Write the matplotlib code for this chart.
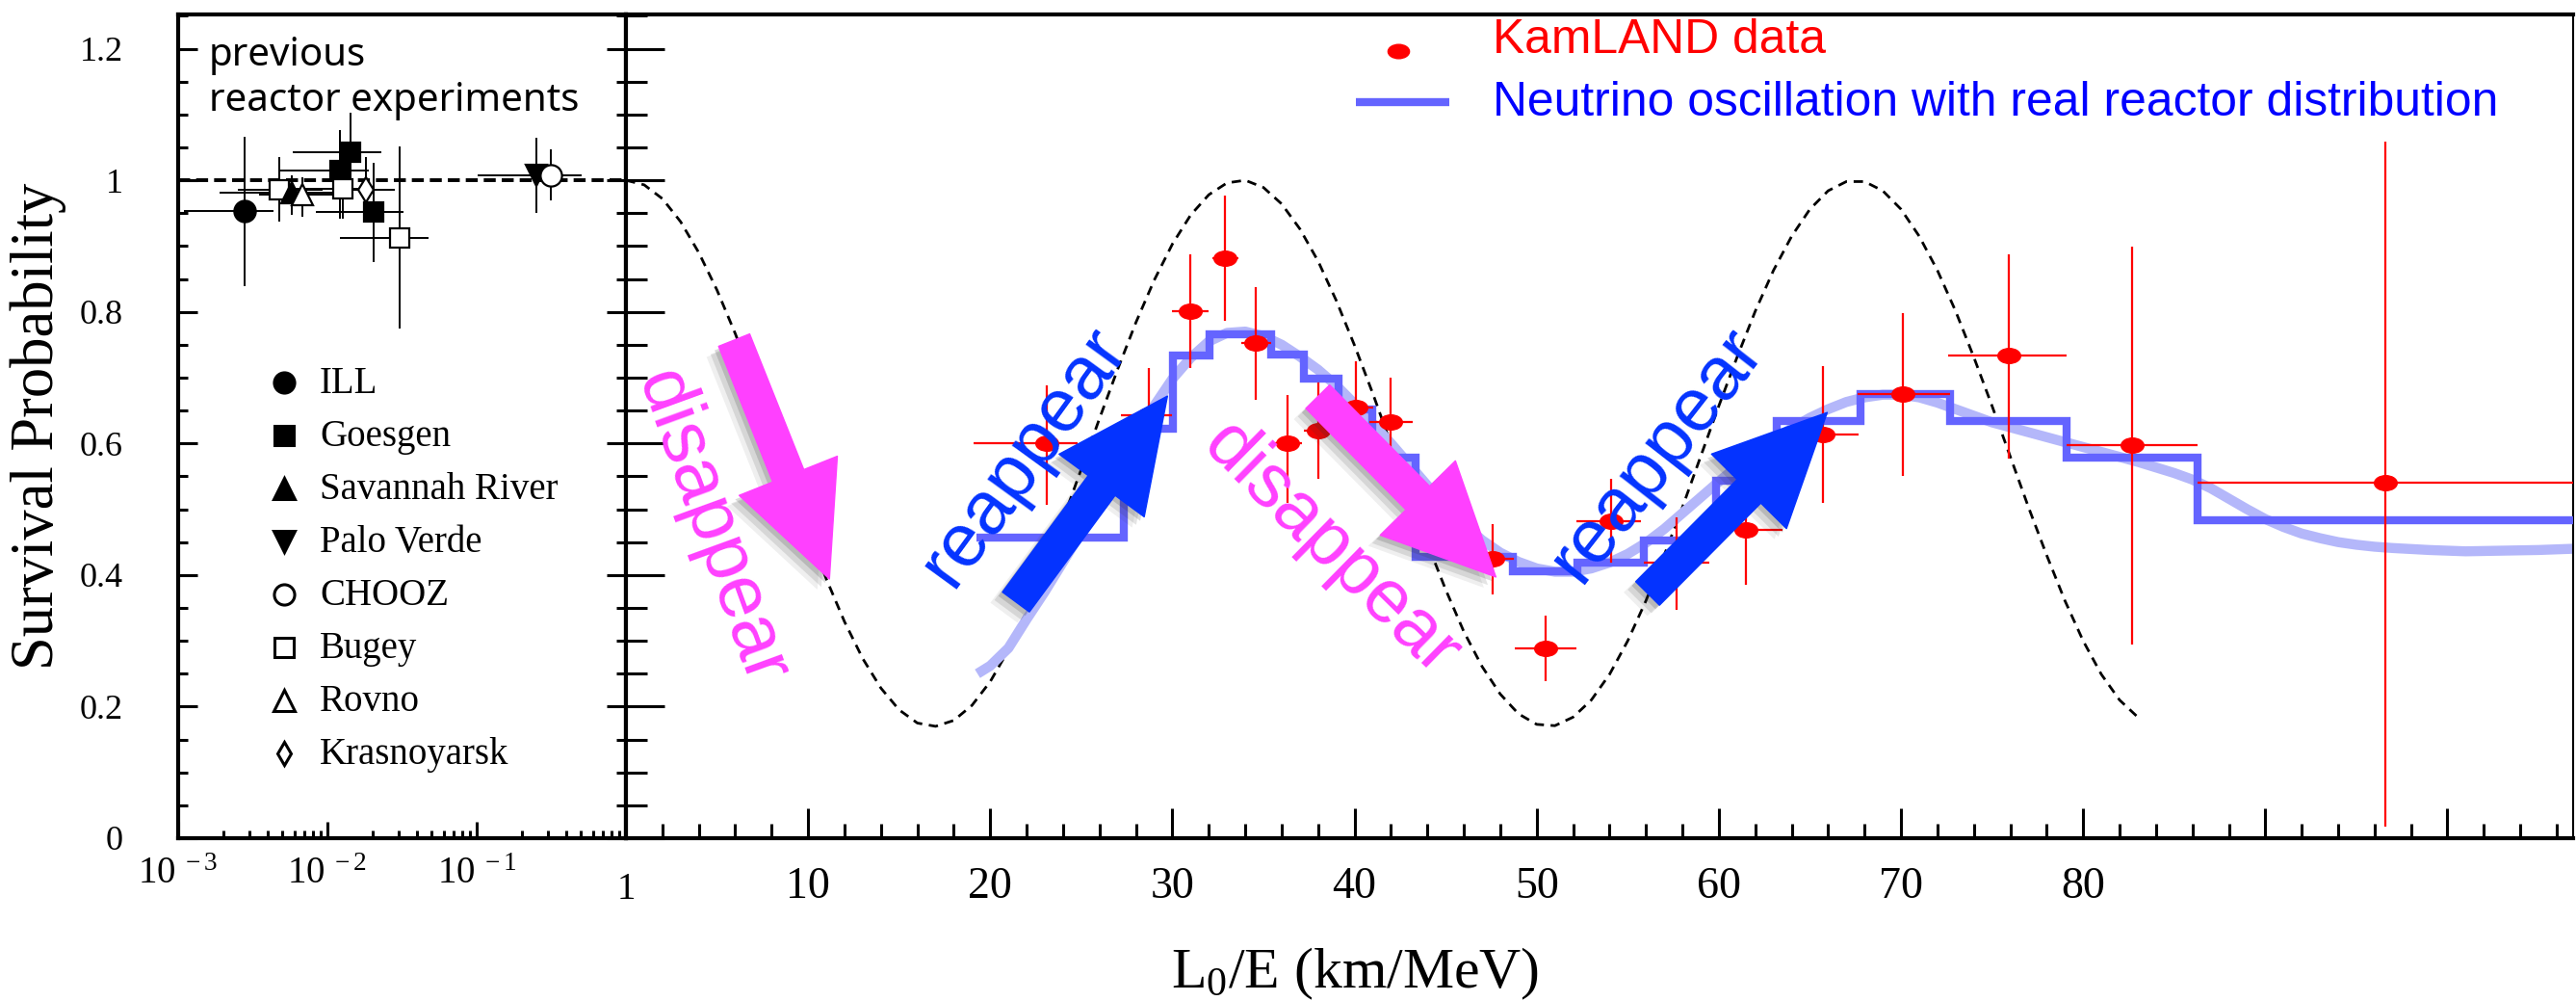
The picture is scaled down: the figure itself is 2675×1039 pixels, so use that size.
import numpy as np
import matplotlib
matplotlib.use("Agg")
import matplotlib.pyplot as plt
import matplotlib.patheffects as pe
from matplotlib import font_manager
from matplotlib.path import Path
from matplotlib.patches import FancyArrowPatch
from matplotlib.transforms import blended_transform_factory
from matplotlib.ticker import MultipleLocator, LogLocator, NullFormatter

# ---- previous reactor experiments (left panel, log x) ----
prev_exp = ["ILL", "Bugey", "Savannah River", "Rovno", "Goesgen", "Goesgen",
            "Bugey", "Krasnoyarsk", "Goesgen", "Bugey", "Palo Verde", "CHOOZ"]
prev_x = [0.00278, 0.00473, 0.00577, 0.00676, 0.01208, 0.01429,
          0.01262, 0.01803, 0.0204, 0.0303, 0.2506, 0.316]
prev_y = [0.953, 0.986, 0.981, 0.978, 1.015, 1.042,
          0.987, 0.985, 0.952, 0.913, 1.008, 1.008]
prev_x_lo = [0.00110, 0.0025, 0.0019, 0.0035, 0.00479, 0.00585,
             0.0060, 0.01148, 0.00832, 0.01222, 0.1014, 0.204]
prev_x_hi = [0.00435, 0.0093, 0.0108, 0.0110, 0.01897, 0.02286,
             0.0200, 0.0283, 0.0322, 0.0478, 0.505, 0.505]
prev_y_lo = [0.839, 0.937, 0.948, 0.945, 0.942, 0.985,
             0.942, 0.961, 0.876, 0.774, 0.951, 0.969]
prev_y_hi = [1.066, 1.035, 1.008, 1.005, 1.076, 1.103,
             1.029, 1.036, 1.027, 1.052, 1.064, 1.047]
legend_names = ["ILL", "Goesgen", "Savannah River", "Palo Verde",
                "CHOOZ", "Bugey", "Rovno", "Krasnoyarsk"]

# ---- KamLAND data (right panel) ----
kl_x = [23.1, 28.7, 31.0, 32.9, 34.6, 36.3, 38.0, 40.1, 42.0, 47.6,
        50.5, 54.1, 57.7, 61.5, 65.7, 70.1, 75.9, 82.7, 96.6]
kl_y = [0.600, 0.643, 0.801, 0.882, 0.753, 0.600, 0.620, 0.655, 0.632, 0.424,
        0.289, 0.482, 0.419, 0.469, 0.614, 0.675, 0.733, 0.598, 0.540]
kl_yerr_lo = [0.093, 0.072, 0.086, 0.096, 0.087, 0.090, 0.074, 0.070, 0.056, 0.053,
              0.050, 0.063, 0.072, 0.084, 0.104, 0.124, 0.156, 0.304, 0.522]
kl_yerr_hi = [0.088, 0.072, 0.087, 0.095, 0.084, 0.073, 0.073, 0.070, 0.068, 0.053,
              0.049, 0.064, 0.069, 0.084, 0.103, 0.123, 0.155, 0.301, 0.518]
kl_xerr_lo = [4.0, 1.5, 1.0, 0.7, 0.8, 0.8, 0.8, 0.9, 1.2, 0.55,
              1.7, 1.9, 1.8, 1.6, 2.15, 2.5, 3.3, 3.6, 10.3]
kl_xerr_hi = [1.7, 1.3, 1.0, 0.7, 0.8, 0.8, 0.8, 0.9, 1.2, 1.15,
              1.7, 1.6, 1.8, 2.0, 1.95, 2.6, 3.2, 3.6, 10.5]

# oscillation with real reactor distribution: binned + smooth
hist_edges = [19.25, 27.33, 30.03, 32.05, 35.42, 37.2, 39.13, 40.97, 43.35, 48.7,
              52.25, 55.9, 59.85, 61.6, 63.2, 67.8, 72.67, 79.1, 86.3, 106.9]
hist_vals = [0.4575, 0.622, 0.733, 0.766, 0.735, 0.698, 0.652, 0.578, 0.428, 0.405,
             0.419, 0.452, 0.543, 0.59, 0.634, 0.6745, 0.634, 0.579, 0.4825]
smooth_x = [19.3, 20, 21, 22, 23, 24, 25, 26, 27, 28, 29, 30, 31, 32, 33, 34, 35, 36,
            37, 38, 39, 40, 41, 42, 43, 44, 45, 46, 47, 48, 49, 50, 51, 52, 53, 54,
            55, 56, 57, 58, 59, 60, 61, 62, 63, 64, 65, 66, 67, 68, 69, 70, 71, 72,
            73, 74, 75, 77, 79, 81, 83, 85, 86, 87, 88, 89, 90, 91, 92, 93, 94, 95,
            96, 97, 99, 101, 103, 105, 107]
smooth_y = [0.250, 0.262, 0.289, 0.333, 0.375, 0.420, 0.465, 0.512, 0.560, 0.610,
            0.657, 0.698, 0.730, 0.755, 0.768, 0.770, 0.763, 0.750, 0.732, 0.712,
            0.688, 0.660, 0.630, 0.600, 0.568, 0.536, 0.505, 0.477, 0.453, 0.434,
            0.420, 0.410, 0.405, 0.405, 0.410, 0.419, 0.432, 0.449, 0.470, 0.494,
            0.518, 0.542, 0.565, 0.586, 0.605, 0.623, 0.639, 0.652, 0.663, 0.670,
            0.674, 0.674, 0.670, 0.662, 0.652, 0.642, 0.632, 0.617, 0.602, 0.587,
            0.572, 0.555, 0.545, 0.532, 0.516, 0.500, 0.485, 0.473, 0.463, 0.456,
            0.450, 0.446, 0.443, 0.441, 0.438, 0.436, 0.437, 0.438, 0.440]

# single-distance oscillation (dashed)
osc_x = list(range(84))
osc_y = [1.000, 0.993, 0.972, 0.937, 0.890, 0.833, 0.767, 0.695, 0.619, 0.542,
         0.466, 0.394, 0.329, 0.273, 0.228, 0.195, 0.175, 0.170, 0.179, 0.202,
         0.238, 0.286, 0.345, 0.412, 0.485, 0.561, 0.638, 0.713, 0.784, 0.848,
         0.903, 0.947, 0.978, 0.996, 1.000, 0.989, 0.964, 0.926, 0.877, 0.817,
         0.749, 0.676, 0.599, 0.522, 0.448, 0.378, 0.314, 0.261, 0.219, 0.189,
         0.173, 0.171, 0.184, 0.210, 0.249, 0.300, 0.361, 0.430, 0.503, 0.580,
         0.657, 0.731, 0.801, 0.863, 0.915, 0.956, 0.984, 0.998, 0.998, 0.984,
         0.956, 0.915, 0.863, 0.801, 0.731, 0.657, 0.580, 0.503, 0.430, 0.361,
         0.300, 0.249, 0.210, 0.184]

PINK = "#ff40ff"
BLUE = "#0433ff"
STEP_BLUE = "#6464ff"
LIGHT_BLUE = "#b4b7fa"
Y_TOP = 1.252

plt.rcParams["font.family"] = "Liberation Serif"
plt.rcParams["mathtext.fontset"] = "custom"
plt.rcParams["mathtext.rm"] = "Liberation Serif"
plt.rcParams["mathtext.it"] = "Liberation Serif:italic"

names = {f.name for f in font_manager.fontManager.ttflist}
legend_font = "Liberation Sans Narrow" if "Liberation Sans Narrow" in names else "Liberation Sans"

marker_style = {"ILL": ("o", "k"), "Goesgen": ("s", "k"), "Savannah River": ("^", "k"),
                "Palo Verde": ("v", "k"), "CHOOZ": ("o", "w"), "Bugey": ("s", "w"),
                "Rovno": ("^", "w"), "Krasnoyarsk": ("d", "w")}
marker_size = {"o": 16, "s": 15, "^": 16, "v": 16, "d": 13}

circ = Path.unit_circle()
ellipse = Path(circ.vertices * [1.0, 0.66], circ.codes)


def style_spines(ax):
    for s in ax.spines.values():
        s.set_linewidth(3)


def plot_left(ax):
    ax.set_xscale("log")
    ax.set_xlim(1e-3, 1)
    ax.set_ylim(0, Y_TOP)
    style_spines(ax)
    ax.axhline(1.0, color="k", lw=2.8, ls=(0, (3.2, 1.6)), zorder=1)
    for i in range(len(prev_x)):
        xe = [[prev_x[i] - prev_x_lo[i]], [prev_x_hi[i] - prev_x[i]]]
        ye = [[prev_y[i] - prev_y_lo[i]], [prev_y_hi[i] - prev_y[i]]]
        ax.errorbar([prev_x[i]], [prev_y[i]], xerr=xe, yerr=ye, fmt="none",
                    ecolor="k", elinewidth=1.4, capsize=0, zorder=2)
    for i in range(len(prev_x)):
        m, fc = marker_style[prev_exp[i]]
        ax.plot(prev_x[i], prev_y[i], ls="none", marker=m, ms=marker_size[m],
                mfc=fc, mec="k", mew=1.6, zorder=3)

    # hand made legend
    tr = blended_transform_factory(ax.transAxes, ax.transData)
    for i, name in enumerate(legend_names):
        m, fc = marker_style[name]
        ax.plot(0.237, 0.6925 - 0.0805 * i, ls="none", marker=m,
                ms=marker_size[m] * 0.95, mfc=fc, mec="k", mew=2.2, transform=tr)
        ax.text(0.316, 0.676 - 0.0805 * i, name, fontsize=28, va="baseline",
                ha="left", transform=tr)
    ax.text(0.068, 1.174, "previous", family="Noto Sans", fontsize=29,
            va="baseline", transform=tr)
    ax.text(0.068, 1.105, "reactor experiments", family="Noto Sans", fontsize=29,
            va="baseline", transform=tr)

    ax.set_yticks([0, 0.2, 0.4, 0.6, 0.8, 1.0, 1.2],
                  labels=["0", "0.2", "0.4", "0.6", "0.8", "1", "1.2"])
    ax.yaxis.set_minor_locator(MultipleLocator(0.05))
    ax.tick_params(axis="y", which="major", direction="in", left=True, right=True,
                   length=14.5, width=2.2, labelsize=26, pad=41)
    ax.tick_params(axis="y", which="minor", direction="in", left=True, right=True,
                   length=7.5, width=2.2)
    ax.set_xticks([1e-3, 1e-2, 1e-1, 1],
                  labels=[r"$10^{\,\,-3}$", r"$10^{\,\,-2}$", r"$10^{\,\,-1}$", ""])
    ax.xaxis.set_minor_locator(LogLocator(base=10, subs=np.arange(2, 10), numticks=20))
    ax.xaxis.set_minor_formatter(NullFormatter())
    ax.tick_params(axis="x", which="major", direction="in", length=12, width=2.2,
                   labelsize=28, pad=14)
    ax.tick_params(axis="x", which="minor", direction="in", length=6, width=2.2)


def plot_right(ax):
    ax.set_xlim(0, 106.9)
    ax.set_ylim(0, Y_TOP)
    style_spines(ax)
    ax.spines["right"].set_linewidth(1.5)

    ax.plot(osc_x, osc_y, color="k", lw=2.0, ls=(0, (3.5, 2.5)), zorder=1)
    ax.plot(smooth_x, smooth_y, color=LIGHT_BLUE, lw=7.5, solid_capstyle="butt",
            zorder=2)
    ax.stairs(hist_vals, hist_edges, baseline=None, color=STEP_BLUE, lw=6, zorder=3)
    ax.errorbar(kl_x, kl_y, xerr=[kl_xerr_lo, kl_xerr_hi],
                yerr=[kl_yerr_lo, kl_yerr_hi], fmt="none", ecolor="red",
                elinewidth=1.6, capsize=0, zorder=4)
    ax.plot(kl_x, kl_y, ls="none", marker=ellipse, ms=17, color="red", zorder=5)

    # legend
    ax.plot([42.4], [1.197], ls="none", marker=ellipse, ms=16, color="red")
    ax.plot([40.1, 45.2], [1.119, 1.119], color=STEP_BLUE, lw=6,
            solid_capstyle="butt")
    t1 = ax.text(47.6, 1.1937, "KamLAND data", color="red", family=legend_font,
                 fontsize=30, va="baseline")
    t2 = ax.text(47.6, 1.098, "Neutrino oscillation with real reactor distribution",
                 color="#0000ff", family=legend_font, fontsize=30, va="baseline")

    # arrows with a soft shadow
    shadow = [pe.SimplePatchShadow(offset=(-3, -3), shadow_rgbFace="0.2", alpha=0.18),
              pe.SimplePatchShadow(offset=(-6, -6), shadow_rgbFace="0.2", alpha=0.13),
              pe.SimplePatchShadow(offset=(-9, -8), shadow_rgbFace="0.2", alpha=0.08),
              pe.Normal()]
    arrows = [((5.94, 0.757), (11.17, 0.394), PINK),
              ((21.41, 0.359), (29.73, 0.672), BLUE),
              ((37.98, 0.671), (47.76, 0.397), PINK),
              ((56.09, 0.372), (65.95, 0.647), BLUE)]
    for tail, tip, c in arrows:
        a = FancyArrowPatch(tail, tip, mutation_scale=1, shrinkA=0, shrinkB=0,
                            arrowstyle="simple,head_length=83,head_width=79,tail_width=25",
                            color=c, zorder=7, path_effects=shadow)
        ax.add_patch(a)

    words = [(4.66, 0.471, "disappear", -70, PINK),
             (21.85, 0.580, "reappear", 54, BLUE),
             (38.73, 0.439, "disappear", -44.5, PINK),
             (56.6, 0.583, "reappear", 52, BLUE)]
    for x, y, s, rot, c in words:
        ax.text(x, y, s, color=c, family="Liberation Sans", fontsize=56,
                rotation=rot, rotation_mode="anchor", ha="center", va="center",
                zorder=8)

    ax.set_xticks(range(0, 101, 10),
                  labels=["", "10", "20", "30", "40", "50", "60", "70", "80", "", ""])
    ax.xaxis.set_minor_locator(MultipleLocator(2))
    ax.tick_params(axis="x", which="major", direction="in", length=22, width=2.2,
                   labelsize=33, pad=21)
    ax.tick_params(axis="x", which="minor", direction="in", length=11, width=2.2)
    ax.yaxis.set_major_locator(MultipleLocator(0.2))
    ax.yaxis.set_minor_locator(MultipleLocator(0.05))
    ax.tick_params(axis="y", which="major", direction="in", left=True, right=False,
                   length=29, width=2.2, labelleft=False)
    ax.tick_params(axis="y", which="minor", direction="in", left=True, right=False,
                   length=16, width=2.2)
    return t1, t2


def main():
    W, H = 2675, 1039
    fig = plt.figure(figsize=(W / 100, H / 100), dpi=100)
    axL = fig.add_axes([185 / W, 169 / H, 465 / W, 855 / H])
    axR = fig.add_axes([650 / W, 169 / H, 2022 / W, 855 / H])
    plot_left(axL)
    t1, t2 = plot_right(axR)

    fig.text(650 / W, 1 - 905 / H, "1", fontsize=28, ha="center", va="top")
    fig.text(55 / W, 1 - 442 / H, "Survival Probability", fontsize=45, rotation=90,
             rotation_mode="anchor", ha="center", va="baseline")
    fig.text(1407 / W, 1 - 1025 / H, r"L$_\mathregular{0}$/E (km/MeV)", fontsize=43,
             ha="center", va="baseline")

    # the long legend line spans about 1041 px in the original
    renderer = fig.canvas.get_renderer()
    w = t2.get_window_extent(renderer).width
    size = 30 * 1041 / w
    t1.set_fontsize(size)
    t2.set_fontsize(size)
    fig.savefig("out.png", dpi=100)


if __name__ == "__main__":
    main()
